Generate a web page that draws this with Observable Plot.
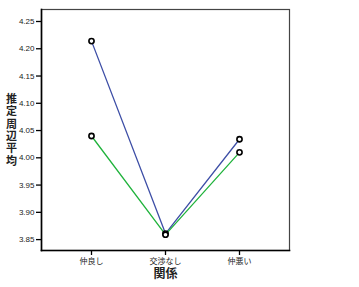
<!DOCTYPE html>
<html><head><meta charset="utf-8">
<script src="https://cdn.jsdelivr.net/npm/d3@7"></script>
<script src="https://cdn.jsdelivr.net/npm/@observablehq/plot@0.6"></script>
<style>
body{margin:0;background:#fff;}
#wrap{position:relative;width:359px;height:287px;font-family:"Liberation Sans","Noto Sans CJK JP",sans-serif;}
#legend{position:absolute;left:305px;top:9px;font-size:8px;color:#222;font-family:"Noto Sans CJK JP",sans-serif;}
#legend .t{font-size:9.5px;text-align:center;margin-left:14px;line-height:13px;}
#legend .row{display:flex;align-items:center;height:12px;}
#legend .sw{width:14px;height:0;border-top:1.3px solid;margin-left:7px;margin-right:4px;}
</style></head>
<body><div id="wrap"><div id="legend"></div></div>
<script>
const categories = ["仲良し", "交渉なし", "仲悪い"];
const seriesNames = ["単数", "複数"];
const singleValues = [4.214, 3.861, 4.034];
const multipleValues = [4.040, 3.859, 4.010];
const yTicks = [3.85, 3.90, 3.95, 4.00, 4.05, 4.10, 4.15, 4.20, 4.25];
const colors = ["#3d4ea6", "#20b33c"];
const yLabel = "推定周辺平均";
const xLabel = "関係";
const legendTitle = "人数";

const data = [];
categories.forEach((c, i) => {
  data.push({cat: c, series: seriesNames[0], value: singleValues[i]});
  data.push({cat: c, series: seriesNames[1], value: multipleValues[i]});
});

const plot = Plot.plot({
  width: 359, height: 287,
  marginLeft: 41, marginRight: 70, marginTop: 9, marginBottom: 37,
  style: {fontFamily: "'Liberation Sans','Noto Sans CJK JP',sans-serif", fontSize: "8px", color: "#222", background: "#fff"},
  x: {type: "point", domain: categories, padding: 0.66},
  y: {domain: [3.83, 4.272]},
  color: {domain: seriesNames, range: colors},
  marks: [
    Plot.frame({stroke: "#444", strokeWidth: 1.2}),
    Plot.frame({anchor: "left", stroke: "#000", strokeWidth: 1.6}),
    Plot.frame({anchor: "bottom", stroke: "#000", strokeWidth: 1.6}),
    Plot.axisY({ticks: yTicks, tickFormat: d3.format(".2f"), tickSize: 5, tickPadding: 2, label: null, stroke: "#000", strokeWidth: 1.3, fontSize: 8}),
    Plot.axisX({tickSize: 5, tickPadding: 3, label: null, stroke: "#000", strokeWidth: 1.3, fontSize: 8, fontFamily: "'Noto Sans CJK JP',sans-serif"}),
    Plot.line(data, {x: "cat", y: "value", z: "series", stroke: "series", strokeWidth: 1.3}),
    Plot.dot(data, {x: "cat", y: "value", r: 2.6, stroke: "#000", strokeWidth: 1.6, fill: "#fff"}),
    Plot.text([yLabel], {text: d => d.split("").join("\n"), frameAnchor: "left", textAnchor: "middle", dx: -30, fontSize: 11, fontWeight: "bold", lineHeight: 1.12, fontFamily: "'Noto Sans CJK JP',sans-serif", fill: "#222"}),
    Plot.text([xLabel], {text: d => d, frameAnchor: "bottom", lineAnchor: "middle", dy: 24, fontSize: 12, fontWeight: "bold", fontFamily: "'Noto Sans CJK JP',sans-serif", fill: "#222"})
  ]
});

document.getElementById("wrap").appendChild(plot);
plot.style.position = "absolute"; plot.style.left = "0"; plot.style.top = "0";

const lg = document.getElementById("legend");
lg.innerHTML = `<div class="t">${legendTitle}</div>` + seriesNames.map((s, i) =>
  `<div class="row"><div class="sw" style="border-color:${colors[i]}"></div><span>${s}</span></div>`).join("");
</script>
</body></html>
